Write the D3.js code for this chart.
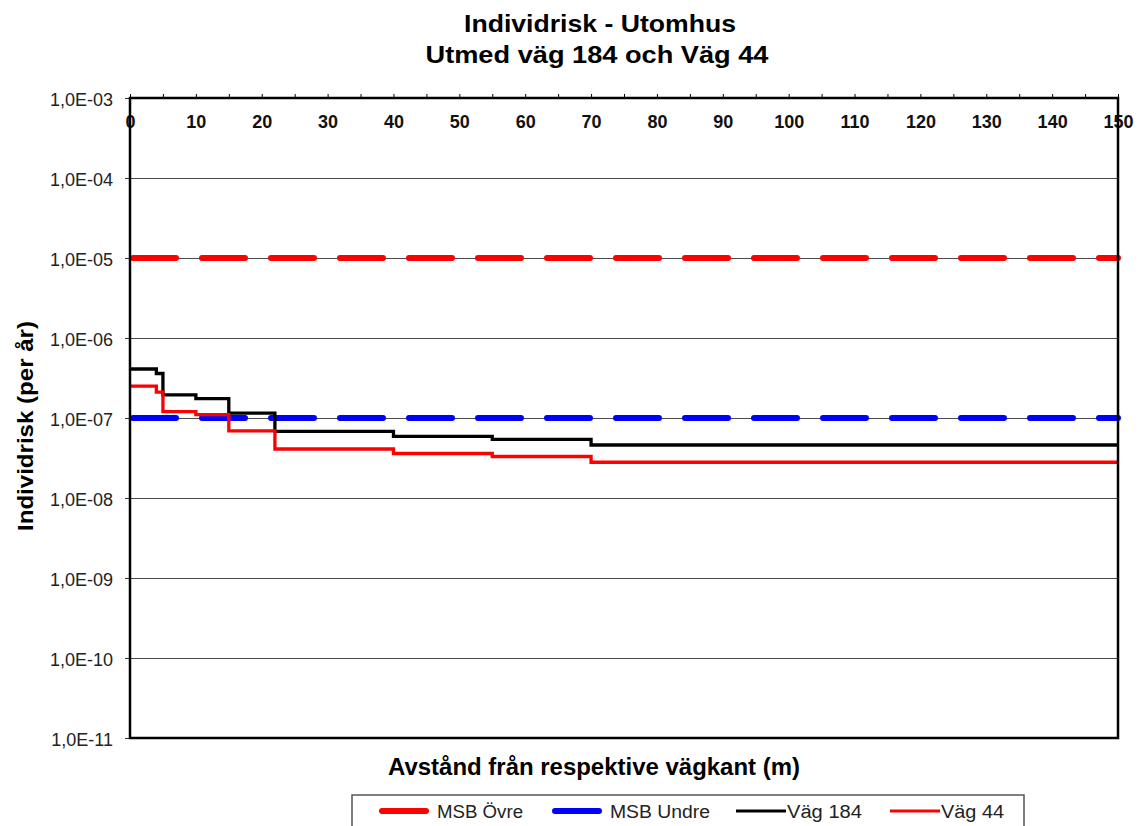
<!DOCTYPE html>
<html lang="sv">
<head>
<meta charset="UTF-8">
<title>Individrisk - Utomhus</title>
<script src="https://d3js.org/d3.v7.min.js"></script>
<style>
  body { margin: 0; background: #fff; }
  svg text { font-family: "Liberation Sans", Arial, sans-serif; }
</style>
</head>
<body>
<div id="chart"></div>
<script>
// data
var distances = [0, 4, 5, 10, 15, 22, 40, 55, 70, 150];
var vag184 = [4.1e-7, 3.6e-7, 1.95e-7, 1.75e-7, 1.15e-7, 6.8e-8, 5.9e-8, 5.4e-8, 4.6e-8, 4.6e-8];
var vag44  = [2.5e-7, 2.1e-7, 1.2e-7, 1.1e-7, 6.9e-8, 4.1e-8, 3.6e-8, 3.3e-8, 2.8e-8, 2.8e-8];
var msbOvre = 1e-5;
var msbUndre = 1e-7;
var yTicks = [1e-3, 1e-4, 1e-5, 1e-6, 1e-7, 1e-8, 1e-9, 1e-10, 1e-11];
var yTickLabels = ["1,0E-03", "1,0E-04", "1,0E-05", "1,0E-06", "1,0E-07", "1,0E-08", "1,0E-09", "1,0E-10", "1,0E-11"];
var xTicks = d3.range(0, 151, 10);
var xMinorTicks = d3.range(0, 151, 5);

var legendItems = [
  {name: "MSB Övre", color: "#ff0000", w: 6, textW: 86},
  {name: "MSB Undre", color: "#0000ff", w: 6, textW: 100},
  {name: "Väg 184", color: "#000000", w: 3, textW: 75},
  {name: "Väg 44", color: "#ff0000", w: 3, textW: 63}
];

var W = 1143, H = 826;
var plot = {left: 130, right: 1118, top: 98, bottom: 738};

var svg = d3.select("#chart").append("svg")
    .attr("width", W)
    .attr("height", H);

var x = d3.scaleLinear().domain([0, 150]).range([plot.left, plot.right]);
var y = d3.scaleLog().domain([1e-11, 1e-3]).range([plot.bottom, plot.top]);

// gridlines
svg.append("g")
  .selectAll("line")
  .data(yTicks)
  .enter().append("line")
    .attr("x1", plot.left).attr("x2", plot.right)
    .attr("y1", function(d) { return y(d) + 0.5; })
    .attr("y2", function(d) { return y(d) + 0.5; })
    .attr("stroke", "#4a4a4a")
    .attr("stroke-width", 1);

// y axis (ticks + labels)
var yAxis = svg.append("g")
    .attr("transform", "translate(" + plot.left + ",0)")
    .call(d3.axisLeft(y)
        .tickValues(yTicks)
        .tickSize(5)
        .tickPadding(12)
        .tickFormat(function(d, i) { return yTickLabels[i]; }));
yAxis.select(".domain").remove();
yAxis.selectAll("line").attr("stroke", "#333");
yAxis.selectAll("text")
    .attr("font-size", 18)
    .attr("fill", "#222")
    .attr("dy", "0.4em")
    .style("font-family", "'Liberation Sans', Arial, sans-serif");

// x axis along the top: minor ticks, then labelled ticks inside the plot
var xMinor = svg.append("g")
    .attr("transform", "translate(0," + plot.top + ")")
    .call(d3.axisTop(x).tickValues(xMinorTicks).tickSize(4).tickFormat(""));
xMinor.select(".domain").remove();
xMinor.selectAll("line").attr("stroke", "#000");

var xAxis = svg.append("g")
    .attr("transform", "translate(0," + plot.top + ")")
    .call(d3.axisBottom(x).tickValues(xTicks).tickSize(0).tickPadding(17));
xAxis.select(".domain").remove();
xAxis.selectAll("text")
    .attr("font-size", 18)
    .attr("font-weight", "bold")
    .attr("fill", "#111")
    .style("font-family", "'Liberation Sans', Arial, sans-serif");

// MSB limits (dashed)
var flat = d3.line()
    .x(function(d) { return x(d[0]); })
    .y(function(d) { return y(d[1]); });

[[msbOvre, "#ff0000"], [msbUndre, "#0000ff"]].forEach(function(m) {
  svg.append("path")
    .datum([[0, m[0]], [150, m[0]]])
    .attr("d", flat)
    .attr("fill", "none")
    .attr("stroke", m[1])
    .attr("stroke-width", 6)
    .attr("stroke-linecap", "round")
    .attr("stroke-dasharray", "43,26")
    .attr("stroke-dashoffset", -3);
});

// step lines
var step = d3.line()
    .x(function(d) { return x(d[0]); })
    .y(function(d) { return y(d[1]); })
    .curve(d3.curveStepAfter);

[[vag184, "#000000"], [vag44, "#ff0000"]].forEach(function(s) {
  svg.append("path")
    .datum(distances.map(function(d, i) { return [d, s[0][i]]; }))
    .attr("d", step)
    .attr("fill", "none")
    .attr("stroke", s[1])
    .attr("stroke-width", 3.3);
});

// frame
svg.append("rect")
    .attr("x", plot.left).attr("y", plot.top)
    .attr("width", plot.right - plot.left)
    .attr("height", plot.bottom - plot.top)
    .attr("fill", "none")
    .attr("stroke", "#000")
    .attr("stroke-width", 2.5);

// titles
svg.append("text")
    .attr("x", 600).attr("y", 32)
    .attr("text-anchor", "middle")
    .attr("font-size", 24).attr("font-weight", "bold")
    .attr("textLength", 272).attr("lengthAdjust", "spacingAndGlyphs")
    .text("Individrisk - Utomhus");
svg.append("text")
    .attr("x", 597).attr("y", 63)
    .attr("text-anchor", "middle")
    .attr("font-size", 24).attr("font-weight", "bold")
    .attr("textLength", 343).attr("lengthAdjust", "spacingAndGlyphs")
    .text("Utmed väg 184 och Väg 44");

svg.append("text")
    .attr("x", 594).attr("y", 775)
    .attr("text-anchor", "middle")
    .attr("font-size", 23).attr("font-weight", "bold")
    .attr("textLength", 412).attr("lengthAdjust", "spacingAndGlyphs")
    .text("Avstånd från respektive vägkant (m)");

svg.append("text")
    .attr("transform", "translate(33,426) rotate(-90)")
    .attr("text-anchor", "middle")
    .attr("font-size", 22).attr("font-weight", "bold")
    .attr("textLength", 210).attr("lengthAdjust", "spacingAndGlyphs")
    .text("Individrisk (per år)");

// legend
var legend = svg.append("g");
legend.append("rect")
    .attr("x", 352).attr("y", 795)
    .attr("width", 672).attr("height", 60)
    .attr("fill", "#fff")
    .attr("stroke", "#555")
    .attr("stroke-width", 1.5);

var legendX = [379, 552, 736, 890];
legendItems.forEach(function(item, i) {
  var lx = legendX[i];
  var round = item.w > 4;
  legend.append("line")
    .attr("x1", lx + (round ? 3 : 0)).attr("x2", lx + 50 - (round ? 3 : 0))
    .attr("y1", 811).attr("y2", 811)
    .attr("stroke", item.color)
    .attr("stroke-width", item.w)
    .attr("stroke-linecap", round ? "round" : "butt");
  legend.append("text")
    .attr("x", lx + (round ? 58 : 51)).attr("y", 818)
    .attr("font-size", 18)
    .attr("fill", "#222")
    .attr("textLength", item.textW).attr("lengthAdjust", "spacingAndGlyphs")
    .text(item.name);
});
</script>
</body>
</html>
